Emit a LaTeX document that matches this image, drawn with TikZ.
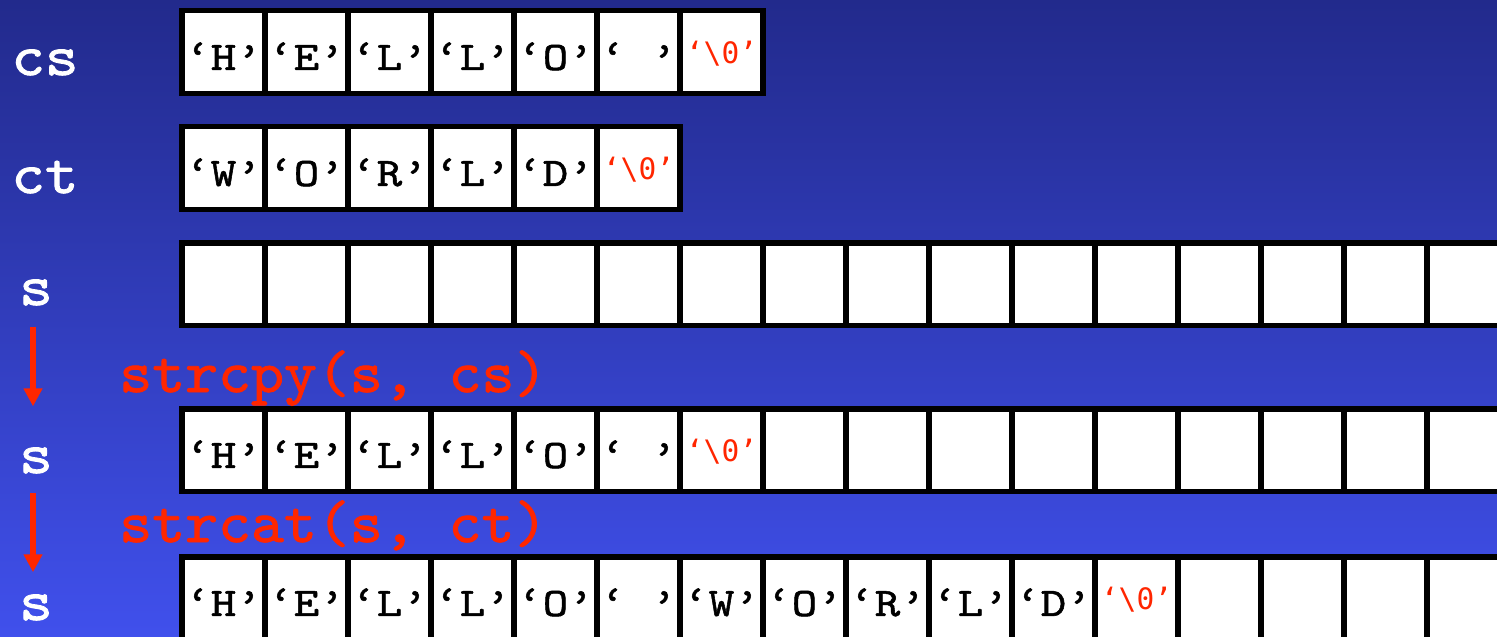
\documentclass[tikz,border=0pt]{standalone}
\usepackage{fontspec}
\newfontfamily\nulfont{DejaVu Sans Mono}
\newfontfamily\cellfont{lmmono10-regular.otf}[FakeStretch=1.2, FakeBold=1.3]
\newfontfamily\namefont{lmmono10-regular.otf}[FakeStretch=1.1, FakeBold=1.5]
\newfontfamily\callfont{lmmono10-regular.otf}[FakeStretch=1.05, FakeBold=1.4]
\usetikzlibrary{arrows.meta}

\definecolor{bgtop}{RGB}{34,42,140}
\definecolor{bgbot}{RGB}{64,80,236}
\definecolor{codered}{RGB}{255,38,0}

\tikzset{
  cell/.style={draw=black, fill=white, line width=3.4pt, inner sep=0pt,
    minimum width=1.66cm, minimum height=1.66cm,
    text height=20.4pt, text depth=0pt,
    font=\cellfont\fontsize{23pt}{25pt}\selectfont},
  nulcell/.style={cell, text=codered, text height=13.6pt,
    font=\nulfont\fontsize{16.8pt}{19pt}\selectfont},
  varname/.style={text=white, inner sep=0pt, anchor=base,
    font=\namefont\fontsize{33pt}{36pt}\selectfont},
  call/.style={text=codered, inner sep=0pt, anchor=base west,
    font=\callfont\fontsize{34pt}{38pt}\selectfont},
  flow/.style={draw=codered, line width=3.4pt,
    -{Triangle[width=10.2pt,length=10.2pt]}}
}

\begin{document}
\begin{tikzpicture}[x=0.02cm, y=-0.02cm]
    % background
    \shade[top color=bgtop, bottom color=bgbot] (0,0) rectangle (1497,636);
    \useasboundingbox (0,0) rectangle (1497,636);

    % variable names
    \node[varname] (cs) at (45,75) {cs};
    \node[varname] (ct) at (45,193) {ct};
    \node[varname] (s0) at (36,305) {s};
    \node[varname] (s1) at (36,473) {s};
    \node[varname] (s2) at (36,620) {s};

    % cs
    \foreach \c [count=\i] in {‘H’,‘E’,‘L’,‘L’,‘O’,‘\ ’}
        \node[cell] (cs\i) at ({140.5+83*\i},52) {\c};
    \node[nulcell] (cs7) at ({140.5+83*7},52) {‘\textbackslash0’};

    % ct
    \foreach \c [count=\i] in {‘W’,‘O’,‘R’,‘L’,‘D’}
        \node[cell] (ct\i) at ({140.5+83*\i},168) {\c};
    \node[nulcell] (ct6) at ({140.5+83*6},168) {‘\textbackslash0’};

    % s, empty
    \foreach \i in {1,...,16}
        \node[cell] (sa\i) at ({140.5+83*\i},284) {};

    % s after strcpy
    \foreach \c [count=\i] in {‘H’,‘E’,‘L’,‘L’,‘O’,‘\ ’}
        \node[cell] (sb\i) at ({140.5+83*\i},450) {\c};
    \node[nulcell] (sb7) at ({140.5+83*7},450) {‘\textbackslash0’};
    \foreach \i in {8,...,16}
        \node[cell] (sb\i) at ({140.5+83*\i},450) {};

    % s after strcat
    \foreach \c [count=\i] in {‘H’,‘E’,‘L’,‘L’,‘O’,‘\ ’,‘W’,‘O’,‘R’,‘L’,‘D’}
        \node[cell] (sc\i) at ({140.5+83*\i},598) {\c};
    \node[nulcell] (sc12) at ({140.5+83*12},598) {‘\textbackslash0’};
    \foreach \i in {13,...,16}
        \node[cell] (sc\i) at ({140.5+83*\i},598) {};

    % calls
    \node[call] (cpy) at (119,392) {strcpy(s, cs)};
    \node[call] (cat) at (119,542) {strcat(s, ct)};

    % steps
    \draw[flow, shorten <=11.9pt, shorten >=23.2pt]
        ([xshift=-1.7pt]s0.south) -- ([xshift=-1.7pt]s1.north);
    \draw[flow, shorten <=10.8pt, shorten >=12.5pt]
        ([xshift=-1.7pt]s1.south) -- ([xshift=-1.7pt]s2.north);
\end{tikzpicture}
\end{document}
